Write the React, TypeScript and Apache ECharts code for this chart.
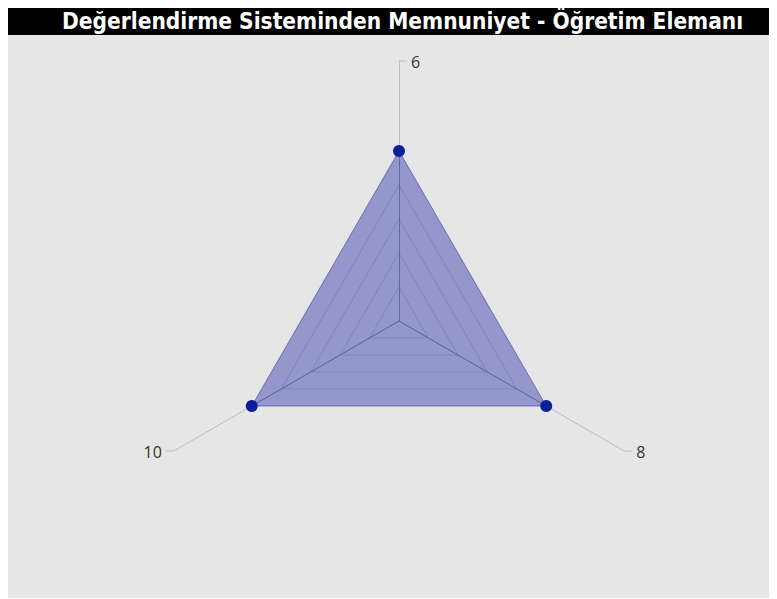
import React, { useEffect, useRef } from "react";
import * as echarts from "echarts";

const titleText = "Değerlendirme Sisteminden Memnuniyet - Öğretim Elemanı";
const categories = ["6", "10", "8"];
const values = [5, 5, 5];
const axisMax = 5;

export default function App() {
  const ref = useRef<HTMLDivElement>(null);
  useEffect(() => {
    const el = ref.current!;
    const chart = echarts.init(el, null, { renderer: "svg" });
    const W = el.clientWidth;
    const cx = 391;
    const cy = 315;
    const rOut = 260;
    const rData = 170;
    const n = categories.length;
    const graphics: any[] = [
      {
        type: "rect",
        shape: { x: 0, y: 0, width: W, height: 29 },
        style: { fill: "#000" },
        z: 0,
      },
    ];
    categories.forEach((name, i) => {
      const a = Math.PI / 2 + (i * 2 * Math.PI) / n;
      const ex = cx + rOut * Math.cos(a);
      const ey = cy - rOut * Math.sin(a);
      const dir = Math.abs(Math.cos(a)) < 1e-6 ? 1 : Math.sign(Math.cos(a));
      const bend = 8;
      graphics.push({
        type: "line",
        shape: { x1: ex, y1: ey, x2: ex + dir * bend, y2: ey },
        style: { stroke: "#bdbdbd", lineWidth: 1 },
      });
      graphics.push({
        type: "text",
        x: ex + dir * (bend + 4),
        y: ey + 1,
        style: {
          text: name,
          fill: "#333",
          fontSize: 16,
          fontFamily: "'Open Sans', sans-serif",
          align: dir > 0 ? "left" : "right",
          verticalAlign: "middle",
        },
      });
    });
    const indicator = categories.map((name) => ({ name, max: axisMax }));
    chart.setOption({
      animation: false,
      backgroundColor: "#e6e6e6",
      title: {
        text: titleText,
        left: 54,
        top: 0,
        padding: 0,
        textStyle: {
          color: "#fff",
          fontSize: 22.5,
          fontWeight: "bold",
          fontFamily: "'DejaVu Sans Condensed', sans-serif",
          lineHeight: 30,
        },
      },
      graphic: graphics,
      radar: [
        {
          center: [cx, cy],
          radius: rOut,
          startAngle: 90,
          shape: "polygon",
          indicator,
          axisName: { show: false },
          splitLine: { show: false },
          splitArea: { show: false },
          axisLine: { lineStyle: { color: "#bdbdbd", width: 1 } },
        },
        {
          center: [cx, cy],
          radius: rData,
          startAngle: 90,
          shape: "polygon",
          splitNumber: 5,
          indicator,
          axisName: { show: false },
          splitLine: { lineStyle: { color: "#c4c5cf", width: 1 } },
          splitArea: { show: false },
          axisLine: { lineStyle: { color: "#8e90a6", width: 1 } },
        },
      ],
      series: [
        {
          type: "radar",
          radarIndex: 1,
          symbol: "circle",
          symbolSize: 12,
          itemStyle: { color: "#0d1f96" },
          lineStyle: { color: "rgba(70,80,175,0.5)", width: 1 },
          areaStyle: { color: "rgba(36,46,168,0.43)", opacity: 1 },
          data: [{ value: values, name: "Memnuniyet" }],
        },
      ],
    });
    return () => chart.dispose();
  }, []);
  return <div ref={ref} style={{ width: 769, height: 592, marginTop: -2 }} />;
}
